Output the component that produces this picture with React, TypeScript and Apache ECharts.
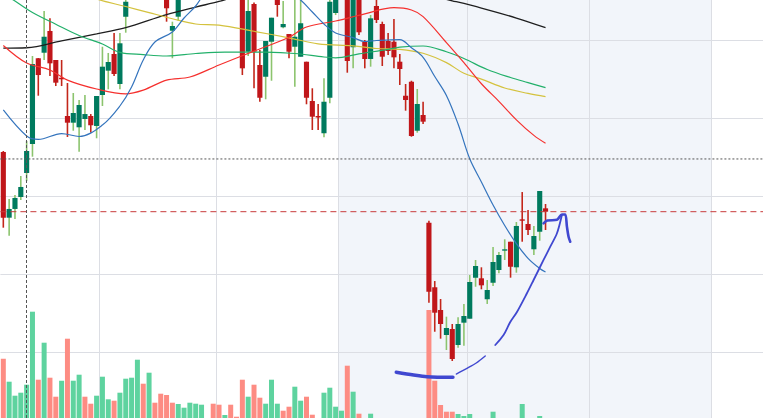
import React, { useEffect, useRef } from "react";
import * as echarts from "echarts";

// ---- candle data (index = trading day) ----
const opens = [35.64,27.22,28.34,29.87,32.95,36.67,47.66,48.37,51.16,47.44,
45.17,40.26,39.4,38.81,39.87,40.26,38.98,42.95,46.07,48.21,
44.36,52.99,55.8,57.4,58.9,57.6,59.2,58.0,55.8,51.19,
52.99,56.2,57.0,57.8,58.5,59.3,59.0,58.2,57.5,58.0,
57.2,56.5,48.5,54.62,46.8,45.3,49.78,55.8,51.63,50.77,
49.14,47.86,47.22,42.18,40.26,38.04,42.6,53.46,56.0,57.0,
49.07,55.9,49.78,47.57,54.36,52.05,49.87,49.78,47.22,42.86,
44.66,38.37,40.39,26.58,18.3,15.39,12.18,12.95,10.9,13.76,
14.27,19.53,19.45,16.76,18.89,20.51,22.99,24.14,20.86,27.01,
26.41,23.17,25.42,28.42];

const closes = [27.22,28.34,29.75,31.16,35.77,46.92,45.51,50.42,47.01,44.53,
44.96,39.4,40.64,41.67,40.51,39.07,42.82,46.58,47.18,45.64,
49.58,54.91,57.4,58.9,57.6,59.2,58.0,56.6,54.07,51.8,
56.2,57.0,57.8,58.5,59.3,59.0,58.2,57.5,58.0,57.2,
56.8,46.37,53.72,48.5,42.6,49.87,52.86,54.49,52.05,48.5,
50.42,52.14,42.6,40.17,40.07,42.09,54.91,56.0,56.8,47.31,
56.0,50.99,47.57,52.78,52.57,47.86,48.59,47.78,46.28,42.31,
37.69,41.8,39.53,17.73,15.04,13.59,13.08,9.1,13.59,14.62,
18.98,21.03,18.55,17.95,21.54,22.44,23.17,20.94,26.16,26.84,
25.64,24.87,30.64,27.99];

const lows = [25.94,24.91,27.05,29.49,31.92,35.04,42.86,47.44,45.39,44.1,
44.1,37.57,38.37,35.68,38.46,38.12,37.4,41.54,43.68,45.39,
43.68,50.94,55.6,56.8,57.0,57.1,56.9,56.0,52.35,47.66,
52.5,55.8,56.5,57.2,58.0,58.4,57.6,56.9,57.0,56.6,
56.2,45.51,47.95,43.81,42.09,42.4,44.78,52.99,51.5,47.66,
44.01,47.86,41.76,38.46,38.46,37.53,41.89,53.2,55.7,45.81,
46.37,50.64,46.37,46.58,52.18,46.67,48.08,46.37,44.23,40.94,
37.6,38.12,39.23,16.32,12.6,11.71,10.26,8.85,10.55,10.81,
14.27,18.37,18.04,16.16,18.46,20.09,21.8,19.53,20.17,24.14,
25.0,22.44,24.27,25.64];

const highs = [35.77,29.62,30.13,32.57,37.05,47.95,47.69,53.72,52.78,47.44,
47.44,44.49,43.21,42.31,42.95,40.51,42.82,49.14,48.34,50.9,
50.9,56.5,58.2,59.6,59.8,60.3,59.9,58.6,56.2,52.35,
56.8,57.6,58.3,59.1,60.0,60.2,59.5,58.6,58.5,58.4,
57.6,57.0,55.6,54.8,48.72,49.87,52.86,56.2,55.0,50.77,
55.4,55.5,47.22,43.81,41.8,45.09,55.3,56.5,57.3,57.4,
56.4,56.2,50.0,53.21,55.4,52.35,50.9,52.69,48.21,44.36,
44.78,43.72,42.09,26.83,19.1,16.8,14.53,13.59,14.45,16.16,
19.87,21.8,20.86,19.23,23.46,22.82,24.45,24.14,26.67,30.51,
28.21,26.16,30.64,28.98];

const volumes = [713,483,343,373,453,1183,503,873,523,333,
493,913,493,553,333,263,343,533,307,293,
373,513,523,703,463,573,273,363,350,273,
260,223,273,263,253,90,263,253,150,253,
133,503,333,453,323,263,503,263,193,233,
433,293,333,153,80,373,423,233,193,643,
383,163,90,163,100,90,80,100,70,90,
110,80,100,1200,493,250,183,183,160,140,
160,90,70,80,183,100,90,110,100,260,
100,110,140,80];

// ---- moving averages, sampled [index, price] ----
const maBlack = [[0,48.95],[4,49.01],[10,49.9],[16,50.8],[21,51.6],[28,53.27],[33,54.23],[37,54.94],[45,56.67],[55,57.44],[65,56.92],[72,55.9],[77,55.03],[82,54.1],[88,52.82],[93,51.58]];
const maYellow = [[0,60.26],[5,58.98],[10,57.05],[16,55.26],[21,54.3],[25,53.51],[29,52.73],[33,52.05],[37,51.92],[43,51.12],[49,50.28],[54,49.51],[60,49.25],[64,48.91],[68,48.81],[72,48.3],[76,47.1],[79,45.73],[82,44.99],[86,43.85],[90,43.16],[93,42.74]];
const maGreen = [[0,55.9],[2,55.0],[5,53.54],[9,52.03],[13,50.58],[17,49.49],[20,48.42],[24,48.13],[28,47.95],[33,48.27],[38,48.46],[45,48.44],[50,48.27],[55,47.82],[57,47.72],[61,48.23],[66,48.8],[68,49.09],[72,49.23],[76,48.49],[79,47.63],[83,46.22],[87,45.19],[90,44.54],[93,43.9]];
const maRed = [[0,49.3],[4,47.05],[8,46.16],[11,44.86],[16,43.72],[21,43.1],[24,43.58],[28,44.85],[32,45.26],[37,46.8],[43,48.57],[49,50.36],[52,51.67],[57,52.44],[62,53.35],[67,54.14],[70,53.85],[72,53.0],[76,49.67],[79,47.1],[82,44.39],[85,42.14],[88,39.77],[91,37.77],[93,36.76]];
const maBlue = [[0,41.03],[4,37.69],[6,37.25],[10,38.01],[13,37.63],[17,39.1],[20,41.54],[22,43.98],[24,47.44],[26,49.75],[29,51.03],[31,52.82],[33,54.36],[35,56.41],[40,58.98],[45,58.33],[49,56.16],[51,55.13],[53,53.59],[55,52.05],[57,50.9],[60,50.31],[62,49.81],[64,49.94],[66,50.0],[68,50.04],[70,49.01],[72,47.78],[74,45.32],[76,42.89],[78,39.23],[80,34.77],[82,31.8],[84,28.85],[86,26.22],[88,23.9],[90,22.01],[92,20.71],[93,20.26]];

// ---- hand-drawn annotation strokes [index, price] ----
const annoBase = [[67.4,7.4],[70.37,7.05],[72.67,6.84],[77.12,6.76]];
const annoRise1 = [[77.69,7.18],[79.52,7.91],[81.12,8.59],[82.66,9.49]];
const annoRise2 = [[84.38,10.9],[85.8,12.18],[86.95,13.85],[88.1,15.13],[89.81,17.53],[90.95,19.23],[92.66,21.8],[93.81,23.5],[94.96,25.22],[95.81,27.57]];
const annoHead = [[92.66,26.5],[93.3,26.85],[94.96,26.95],[95.81,27.63],[96.38,27.63],[96.67,26.07],[96.95,24.78],[97.24,24.14]];

// ---- reference marks ----
const priceGridLevels = [10, 20, 30, 40, 50];
const gridBoundaries = [16.5, 36.5, 57.5, 79.5, 100.5, 121.5];
const shadedRange = [57.5, 121.5];
const crosshairIndex = 4;
const crosshairPrice = 34.75;

const X_MIN = -0.5;
const X_MAX = 130.3;

const UP = "#007a5e";
const UP_WICK = "#8cc46e";
const DOWN = "#c0161a";
const DOWN_WICK = "#c3261a";
const VOL_UP = "#5ed39f";
const VOL_DOWN = "#fd8c83";
const ANNO = "#4048d0";
const GRID = "#dcdee4";

export default function App() {
  const ref = useRef<HTMLDivElement>(null);
  useEffect(() => {
    const chart = echarts.init(ref.current!, null, { renderer: "svg" });
    const candleData = opens.map((o, i) => [i, o, closes[i], lows[i], highs[i]]);
    const volData = volumes.map((v, i) => {
      const up = i === 0 ? closes[0] >= opens[0] : closes[i] >= closes[i - 1];
      return { value: [i, v], itemStyle: { color: up ? VOL_UP : VOL_DOWN } };
    });
    const lastClose = closes[closes.length - 1];
    const maLine = (data: number[][], color: string, w = 1.2) => ({
      type: "line", data, showSymbol: false, symbol: "none", smooth: 0.35, silent: true, z: 4,
      lineStyle: { color, width: w },
    });
    const annoLine = (data: number[][], w: number) => ({
      type: "line", data, showSymbol: false, symbol: "none", smooth: 0.3, silent: true, z: 6,
      lineStyle: { color: ANNO, width: w, cap: "round", join: "round" },
    });
    const hLine = (price: number, color: string, dash: number[]) => ({
      type: "line", data: [[X_MIN, price], [X_MAX, price]], showSymbol: false, symbol: "none",
      silent: true, z: 5, lineStyle: { color, width: 1, type: dash },
    });
    const option: any = {
      animation: false,
      backgroundColor: "#ffffff",
      grid: { left: 0.4, right: 0, top: 0, bottom: 0 },
      xAxis: {
        type: "value", min: X_MIN, max: X_MAX,
        axisLine: { show: false }, axisTick: { show: false }, axisLabel: { show: false }, splitLine: { show: false },
      },
      yAxis: [
        {
          type: "value", min: 1.54, max: 55.13,
          axisLine: { show: false }, axisTick: { show: false }, axisLabel: { show: false },
          splitLine: { show: false },
        },
        { type: "value", min: 120, max: 4300, show: false, splitLine: { show: false } },
      ],
      series: [
        {
          type: "line", data: [], silent: true,
          markArea: {
            silent: true, z: 1,
            itemStyle: { color: "rgba(40,90,170,0.06)" },
            data: [[{ xAxis: shadedRange[0] }, { xAxis: shadedRange[1] }]],
          },
          markLine: {
            silent: true, z: 1, symbol: ["none", "none"], label: { show: false },
            lineStyle: { color: GRID, width: 1, type: "solid" },
            data: [
              ...gridBoundaries.map((x) => ({ xAxis: x })),
              ...priceGridLevels.map((y) => ({ yAxis: y })),
            ],
          },
        },
        {
          type: "bar", xAxisIndex: 0, yAxisIndex: 1, barWidth: 5, z: 2, silent: true, clip: true,
          data: volData,
        },
        {
          type: "custom", z: 3, silent: true,
          data: candleData,
          encode: { x: 0, y: [1, 2, 3, 4] },
          renderItem: (params: any, api: any) => {
            const i = api.value(0), o = api.value(1), c = api.value(2), l = api.value(3), h = api.value(4);
            const up = c >= o;
            const pO = api.coord([i, o]);
            const pC = api.coord([i, c]);
            const pL = api.coord([i, l]);
            const pH = api.coord([i, h]);
            const w = api.size([1, 0])[0] * 0.88;
            const top = Math.min(pO[1], pC[1]);
            const bh = Math.max(Math.abs(pO[1] - pC[1]), 1.4);
            return {
              type: "group",
              children: [
                { type: "line", shape: { x1: pH[0], y1: pH[1], x2: pL[0], y2: pL[1] }, style: { stroke: up ? UP_WICK : DOWN_WICK, lineWidth: 1.6 } },
                { type: "rect", shape: { x: pO[0] - w / 2, y: top, width: w, height: bh }, style: { fill: up ? UP : DOWN } },
              ],
            };
          },
        },
        maLine(maBlack, "#1e1e1e", 1.3),
        maLine(maYellow, "#d4c23e"),
        maLine(maGreen, "#22b06a"),
        maLine(maRed, "#f5302e"),
        maLine(maBlue, "#3474bd"),
        {
          type: "line", data: [], silent: true,
          markLine: {
            silent: true, z: 5, symbol: ["none", "none"], label: { show: false },
            lineStyle: { color: "#555555", width: 1, type: [3, 2] },
            data: [{ xAxis: crosshairIndex }],
          },
        },
        hLine(crosshairPrice, "#555555", [2, 2]),
        hLine(lastClose, "#c83c3c", [6, 4]),
        annoLine(annoBase, 3.5),
        annoLine(annoRise1, 1.4),
        annoLine(annoRise2, 1.8),
        annoLine(annoHead, 2.6),
      ],
    };
    chart.setOption(option);
    return () => chart.dispose();
  }, []);
  return (
    <div
      ref={ref}
      style={{ position: "fixed", left: 0, top: 0, width: 763, height: 418, background: "#fff" }}
    />
  );
}
